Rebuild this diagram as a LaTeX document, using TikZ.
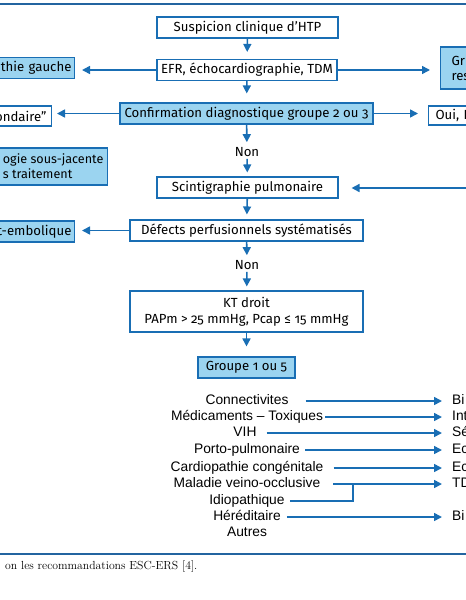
\documentclass[tikz,border=0pt]{standalone}
\usepackage{fontspec}
\newfontfamily\boxfont{Fira Sans}[Numbers=OldStyle]
\newfontfamily\listfont{Liberation Sans}
\usetikzlibrary{arrows.meta,calc}
\definecolor{bord}{RGB}{25,110,180}
\definecolor{fillb}{RGB}{155,212,240}
\definecolor{rulec}{RGB}{35,100,160}
\begin{document}
\begin{tikzpicture}[x=1pt,y=-1pt,
  box/.style={draw=bord,line width=1.1pt,fill=white,minimum height=21pt,inner sep=0pt,
    font=\boxfont\fontsize{13.2}{15}\selectfont},
  bbox/.style={box,fill=fillb},
  plain/.style={inner sep=0pt,font=\boxfont\fontsize{13.2}{15}\selectfont},
  arr/.style={draw=bord,line width=1.6pt,-{Triangle[length=8pt,width=8pt]}},
  lin/.style={draw=bord,line width=1.6pt},
  item/.style={inner sep=0pt,text height=10pt,text depth=3pt,font=\listfont\fontsize{13.8}{16}\selectfont},
  rit/.style={item,anchor=west}
]
\useasboundingbox (0,0) rectangle (466,600);
\begin{scope}
\clip (0,0) rectangle (466,600);
\draw[rulec,line width=1.6pt] (-5,4) -- (471,4);
\draw[rulec,line width=1.6pt] (-5,554) -- (471,554);

\node[box,minimum width=181pt] (susp) at (247.5,27.5) {Suspicion clinique d’HTP};
\node[box,minimum width=180pt] (efr) at (247,70) {EFR, échocardiographie, TDM};
\node[bbox,anchor=east,inner xsep=3pt,text width=100pt,align=right] (gauche) at (75,68) {thie gauche};
\node[bbox,anchor=west,inner xsep=11pt,text width=60pt,align=left,minimum height=42pt] (gr) at (440,68) {Gr\\res};
\node[bbox,minimum width=253pt] (conf) at (246.5,113.5) {Confirmation diagnostique groupe 2 ou 3};
\node[box,anchor=east,inner xsep=5pt,text width=60pt,align=right,minimum height=20pt] (ond) at (52,116) {ondaire”};
\node[box,anchor=west,inner xsep=7pt,text width=50pt,align=left,minimum height=19pt] (oui) at (428,115.5) {Oui, H};
\node[bbox,anchor=east,inner xsep=4pt,align=left,minimum height=37pt,font=\boxfont\fontsize{12.6}{15}\selectfont] (ogie) at (108,166.5) {ogie sous-jacente\\s traitement};
\node[plain] (non1) at (247,152) {Non};
\node[box,minimum width=181pt] (scint) at (247.5,187.5) {Scintigraphie pulmonaire};
\coordinate (rin) at (472,188);
\node[box,minimum width=233pt] (def) at (246.5,230.5) {Défects perfusionnels systématisés};
\node[bbox,anchor=east,inner xsep=3pt,text width=80pt,align=right] (emb) at (75,231.5) {t-embolique};
\node[plain] (non2) at (247,265) {Non};
\node[box,minimum width=233pt,minimum height=41pt,align=center,font=\boxfont\fontsize{13.2}{16}\selectfont] (kt) at (246.5,311.5) {KT droit\\PAPm > 25 mmHg, Pcap ≤ 15 mmHg};
\node[bbox,minimum width=97pt] (grp) at (246.5,367.5) {Groupe 1 ou 5};

\draw[arr,shorten >=7pt] (susp) -- (efr);
\draw[arr,shorten >=9pt] (efr) -- (conf);
\draw[arr,shorten >=7pt] (efr.west) -- (efr.west -| gauche.east);
\draw[arr,shorten >=10pt] (efr.east) -- (efr.east -| gr.west);
\draw[arr,shorten >=5pt] (conf.west) -- (conf.west -| ond.east);
\draw[arr,shorten >=10pt] (conf.east) -- (conf.east -| oui.west);
\draw[arr,shorten >=5pt] (conf) -- (non1);
\draw[arr,shorten <=2pt,shorten >=4pt] (non1) -- (scint);
\draw[arr,shorten >=13pt] (rin) -- (rin -| scint.east);
\draw[arr,shorten >=5pt] (scint) -- (def);
\draw[arr,shorten >=5pt] (def) -- (non2);
\draw[arr,shorten >=7pt] (def.west) -- (def.west -| emb.east);
\draw[arr,shorten <=2pt,shorten >=4pt] (non2) -- (kt);
\draw[arr,shorten >=10pt] (kt) -- (grp);

\node[item] (l1) at (247,401) {Connectivites};
\node[item] (l2) at (247,417) {Médicaments – Toxiques};
\node[item] (l3) at (245,433) {VIH};
\node[item] (l4) at (247,450) {Porto-pulmonaire};
\node[item] (l5) at (247,468) {Cardiopathie congénitale};
\node[item] (l6) at (247,484) {Maladie veino-occlusive};
\node[item] (l7) at (247,501) {Idiopathique};
\node[item] (l8) at (247,517) {Héréditaire};
\node[item] (l9) at (247,533) {Autres};
\node[rit] (r1) at (452,401) {Bi};
\node[rit] (r2) at (452,417) {Int};
\node[rit] (r3) at (452,433) {Sé};
\node[rit] (r4) at (452,450) {Ec};
\node[rit] (r5) at (452,468) {Ec};
\node[rit] (r6) at (452,484) {TD};
\node[rit] (r8) at (452,517) {Bi};
\coordinate (jn) at (353,484);

\draw[arr] ([xshift=17pt]l1.east) -- ([xshift=-10pt]r1.west);
\draw[arr] ([xshift=2pt]l2.east) -- ([xshift=-10pt]r2.west);
\draw[arr] ([xshift=10pt]l3.east) -- ([xshift=-10pt]r3.west);
\draw[arr] ([xshift=5pt]l4.east) -- ([xshift=-10pt]r4.west);
\draw[arr] ([xshift=10pt]l5.east) -- ([xshift=-10pt]r5.west);
\draw[arr] ([xshift=13pt]l6.east) -- ([xshift=-10pt]r6.west);
\draw[lin] ([xshift=5pt]l7.east) -| (jn);
\draw[arr] ([xshift=6pt]l8.east) -- ([xshift=-10pt]r8.west);

\node[anchor=base west,inner sep=0pt,font=\fontsize{11.7}{14}\selectfont] (cap) at (5,569) {on les recommandations ESC-ERS [\oldstylenums{4}].};
\end{scope}
\end{tikzpicture}
\end{document}
